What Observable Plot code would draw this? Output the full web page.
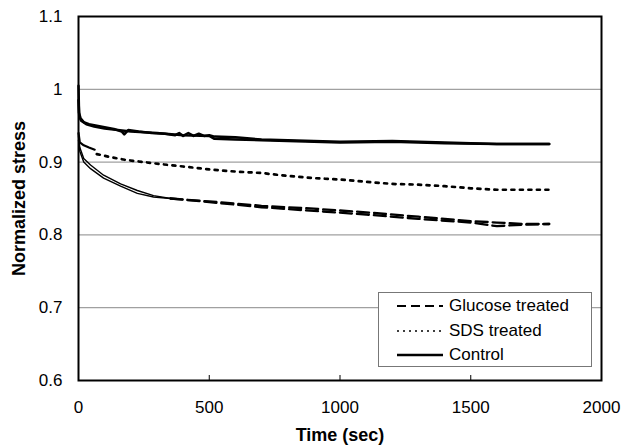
<!DOCTYPE html>
<html>
<head>
<meta charset="utf-8">
<script src="https://cdn.jsdelivr.net/npm/d3@7"></script>
<script src="https://cdn.jsdelivr.net/npm/@observablehq/plot@0.6"></script>
<style>
  body { margin: 0; background: #fff; font-family: Arial, "Liberation Sans", sans-serif; }
  #wrap { position: relative; width: 628px; height: 446px; }
  #legend { position: absolute; left: 378px; top: 292px; width: 214px; height: 75px; box-sizing: border-box;
            border: 1px solid #777; background: #fff; font-size: 17px; color: #000; }
  .row { position: absolute; left: 18px; height: 20px; display: flex; align-items: center; }
  .row svg { margin-right: 6px; }
</style>
</head>
<body>
<div id="wrap"><div id="legend"></div></div>
<script>
// ---------- data ----------
const seriesNames = ["Glucose treated", "SDS treated", "Control"];

const controlT1 = [0, 2, 8, 20, 40, 70, 100, 140, 165, 175, 190, 230, 280, 330, 370, 385, 400, 420, 440, 460, 480, 500, 520, 600, 700, 800, 1000, 1200, 1400, 1600, 1800];
const controlV1 = [1.005, 0.968, 0.960, 0.955, 0.952, 0.950, 0.948, 0.945, 0.942, 0.938, 0.944, 0.942, 0.940, 0.939, 0.937, 0.940, 0.936, 0.940, 0.936, 0.939, 0.936, 0.937, 0.935, 0.934, 0.931, 0.930, 0.928, 0.929, 0.927, 0.925, 0.925];
const controlT2 = [0, 3, 10, 30, 60, 100, 150, 200, 300, 400, 500, 520, 600, 700, 800, 1000, 1200, 1400, 1600, 1800];
const controlV2 = [0.985, 0.962, 0.957, 0.952, 0.949, 0.946, 0.944, 0.942, 0.940, 0.937, 0.936, 0.932, 0.931, 0.930, 0.929, 0.927, 0.928, 0.926, 0.925, 0.925];

const sdsEarlyT = [0, 5, 20, 40, 62];
const sdsEarlyV = [0.940, 0.927, 0.923, 0.920, 0.917];
const sdsT = [70, 120, 180, 250, 320, 400, 500, 600, 700, 800, 900, 1000, 1100, 1200, 1300, 1400, 1500, 1600, 1700, 1800];
const sdsV = [0.911, 0.907, 0.903, 0.900, 0.897, 0.894, 0.890, 0.887, 0.885, 0.881, 0.878, 0.876, 0.873, 0.870, 0.869, 0.867, 0.864, 0.862, 0.862, 0.862];

const glucEarlyT = [0, 5, 20, 46, 96, 161, 225, 287, 352];
const glucEarlyV1 = [0.935, 0.920, 0.905, 0.896, 0.882, 0.870, 0.861, 0.854, 0.850];
const glucEarlyV2 = [0.930, 0.915, 0.900, 0.891, 0.878, 0.867, 0.857, 0.852, 0.850];
const glucT = [352, 500, 700, 900, 1100, 1300, 1500, 1600, 1700, 1800];
const glucV1 = [0.850, 0.846, 0.840, 0.836, 0.831, 0.825, 0.819, 0.817, 0.815, 0.815];
const glucV2 = [0.850, 0.845, 0.838, 0.833, 0.828, 0.822, 0.817, 0.812, 0.814, 0.815];

const xTicks = [0, 500, 1000, 1500, 2000];
const xTickLabels = ["0", "500", "1000", "1500", "2000"];
const yTicks = [0.6, 0.7, 0.8, 0.9, 1.0, 1.1];
const yTickLabels = ["0.6", "0.7", "0.8", "0.9", "1", "1.1"];
const yGrid = [0.7, 0.8, 0.9, 1.0];

// ---------- tables ----------
const rows = (ts, vs, rep) => ts.map((t, i) => ({t, v: vs[i], rep}));
const controlData = [...rows(controlT1, controlV1, "c1"), ...rows(controlT2, controlV2, "c2")];
const sdsEarly = rows(sdsEarlyT, sdsEarlyV, "s1");
const sdsData = rows(sdsT, sdsV, "s1");
const glucEarly = [...rows(glucEarlyT, glucEarlyV1, "g1"), ...rows(glucEarlyT, glucEarlyV2, "g2")];
const glucData = [...rows(glucT, glucV1, "g1"), ...rows(glucT, glucV2, "g2")];

const chart = Plot.plot({
  width: 628, height: 446,
  marginLeft: 78, marginRight: 27, marginTop: 16, marginBottom: 66,
  style: {fontFamily: "Arial, 'Liberation Sans', sans-serif", fontSize: "17px", color: "#000", background: "#fff"},
  x: {domain: [0, 2000]},
  y: {domain: [0.6, 1.1]},
  marks: [
    Plot.gridY(yGrid, {stroke: "#a0a0a0", strokeOpacity: 1, strokeWidth: 1.2}),
    Plot.line(glucEarly, {x: "t", y: "v", z: "rep", stroke: "#000", strokeWidth: 1.4}),
    Plot.line(glucData, {x: "t", y: "v", z: "rep", stroke: "#000", strokeWidth: 2.3, strokeDasharray: "12,5"}),
    Plot.line(sdsEarly, {x: "t", y: "v", z: "rep", stroke: "#000", strokeWidth: 2.2}),
    Plot.line(sdsData, {x: "t", y: "v", z: "rep", stroke: "#000", strokeWidth: 2.7, strokeDasharray: "3,5.5"}),
    Plot.line(controlData, {x: "t", y: "v", z: "rep", stroke: "#000", strokeWidth: 2.5}),
    Plot.frame({stroke: "#000", strokeWidth: 2}),
    Plot.axisX({ticks: [500, 1000, 1500], tickSize: -5, tickFormat: () => "", label: null}),
    Plot.axisX({ticks: xTicks, tickSize: 0, tickPadding: 20, tickFormat: (d, i) => xTickLabels[xTicks.indexOf(d)],
                label: "Time (sec)", labelAnchor: "center", labelArrow: "none", labelOffset: 60}),
    Plot.axisY({ticks: yTicks, tickSize: 0, tickPadding: 16, tickFormat: (d) => yTickLabels[yTicks.findIndex(v => Math.abs(v - d) < 1e-9)],
                label: "Normalized stress", labelAnchor: "center", labelArrow: "none", labelOffset: 66})
  ]
});
document.getElementById("wrap").prepend(chart);

// font sizes and weights
chart.querySelectorAll("[aria-label='x-axis tick label'], [aria-label='y-axis tick label']").forEach(g => {
  g.setAttribute("font-size", "17px");
  g.querySelectorAll("text").forEach(t => t.style.fontSize = "17px");
});
chart.querySelectorAll("[aria-label='x-axis label'] text, [aria-label='y-axis label'] text").forEach(t => {
  t.setAttribute("font-weight", "bold");
  t.style.fontSize = "18px";
});

// legend
const legendStyles = [
  {dash: "9,5", width: 2},
  {dash: "2,4", width: 1.5},
  {dash: null, width: 2.5}
];
const legend = document.getElementById("legend");
seriesNames.forEach((name, i) => {
  const row = document.createElement("div");
  row.className = "row";
  row.style.top = (3 + i * 24.5) + "px";
  const s = legendStyles[i];
  row.innerHTML = `<svg width="46" height="10"><line x1="0" x2="46" y1="5" y2="5" stroke="#000" stroke-width="${s.width}" ${s.dash ? `stroke-dasharray="${s.dash}"` : ""}/></svg><span>${name}</span>`;
  legend.appendChild(row);
});
</script>
</body>
</html>
